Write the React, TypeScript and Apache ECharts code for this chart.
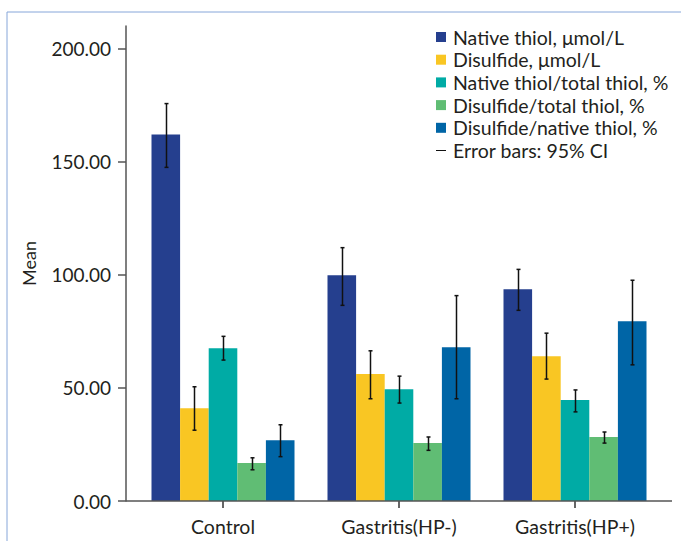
import React, { useEffect, useRef } from "react";
import * as echarts from "echarts";

const categories = ["Control", "Gastritis(HP-)", "Gastritis(HP+)"];
const seriesNames = [
  "Native thiol, μmol/L",
  "Disulfide, μmol/L",
  "Native thiol/total thiol, %",
  "Disulfide/total thiol, %",
  "Disulfide/native thiol, %",
];
const seriesColors = ["#253f8e", "#f9c623", "#00aba5", "#60bd74", "#0065a6"];

const nativeThiol = [162.0, 99.8, 93.6];
const disulfide = [41.0, 56.1, 64.0];
const nativeTotal = [67.5, 49.4, 44.6];
const disulfideTotal = [16.8, 25.6, 28.3];
const disulfideNative = [26.9, 68.0, 79.5];

const nativeThiolCI = [[147.5, 175.7], [86.5, 112.0], [84.3, 102.4]];
const disulfideCI = [[31.3, 50.5], [45.2, 66.4], [53.9, 74.2]];
const nativeTotalCI = [[62.3, 72.8], [43.3, 55.2], [39.4, 49.1]];
const disulfideTotalCI = [[13.8, 19.1], [22.4, 28.3], [25.6, 30.5]];
const disulfideNativeCI = [[19.6, 33.7], [45.2, 90.8], [60.2, 97.6]];

const yTicks = [0, 50, 100, 150, 200];
const errorName = "Error bars: 95% CI";

const FONT = "Lato";
const CAT_GAP = 0.1875;

export default function App() {
  const ref = useRef<HTMLDivElement>(null);
  useEffect(() => {
    if (!ref.current) return;
    const chart = echarts.init(ref.current, undefined, { renderer: "svg" });
    const values = [nativeThiol, disulfide, nativeTotal, disulfideTotal, disulfideNative];
    const cis = [nativeThiolCI, disulfideCI, nativeTotalCI, disulfideTotalCI, disulfideNativeCI];
    const errData: number[][] = [];
    cis.forEach((ci, s) => ci.forEach((r, c) => errData.push([c, s, r[0], r[1]])));

    const barSeries = values.map((v, i) => ({
      type: "bar",
      name: seriesNames[i],
      data: v,
      itemStyle: { color: seriesColors[i] },
      barGap: "0%",
      barCategoryGap: CAT_GAP * 100 + "%",
    }));

    chart.setOption({
      animation: false,
      textStyle: { fontFamily: FONT },
      graphic: [
        {
          type: "rect",
          shape: { x: 7, y: 12, width: 720, height: 600 },
          style: { fill: "none", stroke: "#86a6d9", lineWidth: 1 },
          silent: true,
        },
        {
          type: "line",
          shape: { x1: 126, y1: 501, x2: 672, y2: 501 },
          style: { stroke: "#555", lineWidth: 1.5 },
          silent: true,
          z: 10,
        },
      ],
      legend: {
        orient: "vertical",
        left: 431,
        top: 22,
        itemWidth: 10,
        itemHeight: 10,
        itemGap: 2.7,
        textStyle: { fontSize: 19.5, color: "#231f20", fontFamily: FONT, padding: [0, 0, 0, 2] },
        data: [
          ...seriesNames.map((n) => ({ name: n, icon: "rect" })),
          {
            name: errorName,
            icon: "path://M0,4.5 L10,4.5 L10,5.5 L0,5.5 Z",
            itemStyle: { color: "#111" },
          },
        ],
      },
      grid: { left: 135, right: 18, top: 26, bottom: 40 },
      xAxis: {
        type: "category",
        data: categories,
        axisLine: { show: false },
        axisTick: { show: true, alignWithLabel: true, length: 7, lineStyle: { color: "#333", width: 1.5 } },
        axisLabel: { fontSize: 19.5, color: "#231f20", margin: 15, fontFamily: FONT },
      },
      yAxis: {
        type: "value",
        min: 0,
        max: 210,
        offset: 9,
        name: "Mean",
        nameLocation: "middle",
        nameGap: 88,
        nameTextStyle: { fontSize: 18, color: "#231f20", fontFamily: FONT },
        axisLine: { show: true, lineStyle: { color: "#555", width: 1.5 } },
        axisTick: { show: true, length: 8, customValues: yTicks, lineStyle: { color: "#555", width: 1.5 } },
        axisLabel: {
          fontSize: 19,
          color: "#231f20",
          margin: 15,
          customValues: yTicks,
          fontFamily: FONT,
          formatter: (v: number) => v.toFixed(2),
        },
        splitLine: { show: false },
      },
      series: [
        ...barSeries,
        {
          type: "custom",
          name: errorName,
          itemStyle: { color: "#111" },
          encode: { x: 0, y: [2, 3] },
          data: errData,
          z: 5,
          renderItem: (params: any, api: any) => {
            const cat = api.value(0);
            const s = api.value(1);
            const lo = api.value(2);
            const hi = api.value(3);
            const bandW = api.size([1, 0])[0];
            const barW = (bandW * (1 - CAT_GAP)) / 5;
            const cx = api.coord([cat, 0])[0];
            const x = Math.round(cx + (s - 2) * barW) + 0.5;
            const yLo = api.coord([cat, lo])[1];
            const yHi = api.coord([cat, hi])[1];
            const cap = 2;
            const st = { stroke: "#111", lineWidth: 1.5 };
            return {
              type: "group",
              children: [
                { type: "line", shape: { x1: x, y1: yLo, x2: x, y2: yHi }, style: st },
                { type: "line", shape: { x1: x - cap, y1: yHi, x2: x + cap, y2: yHi }, style: st },
                { type: "line", shape: { x1: x - cap, y1: yLo, x2: x + cap, y2: yLo }, style: st },
              ],
            };
          },
        },
      ],
    });
    return () => chart.dispose();
  }, []);
  return (
    <div
      ref={ref}
      style={{ position: "absolute", left: 0, top: 0, width: 681, height: 541, background: "#fff" }}
    />
  );
}
